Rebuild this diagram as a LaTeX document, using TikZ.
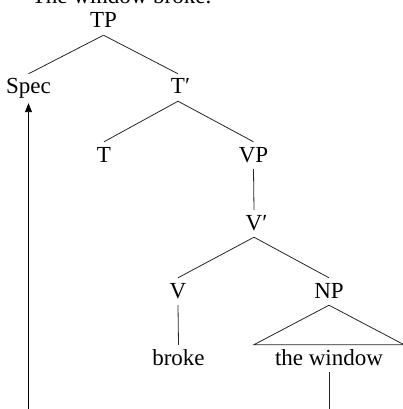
\documentclass[tikz,border=0pt]{standalone}
\usepackage{fontspec}
\setmainfont{Liberation Serif}
\usetikzlibrary{arrows.meta}
\begin{document}
\begin{tikzpicture}[x=1pt,y=-1pt,
  lbl/.style={anchor=base,inner sep=0pt,text height=20pt,text depth=7pt,
    font=\fontsize{23}{27}\selectfont},
  edge/.style={line width=0.8pt,draw=black!85},
  move/.style={line width=0.9pt,draw=black,-{Triangle[length=9pt,width=7pt]}}]
\useasboundingbox (0,0) rectangle (403,409);

% sentence caption (partly above the page edge)
\node[lbl] (sent) at (121.5,4) {The window broke.};

% tree nodes
\node[lbl] (tp)    at (103.5,28)  {TP};
\node[lbl] (spec)  at (28.5,94)   {Spec};
\node[lbl] (tbar)  at (178,94)    {T\rlap{′}};
\node[lbl] (t)     at (104,162)   {T};
\node[lbl] (vp)    at (253.5,162) {VP};
\node[lbl] (vbar)  at (254,230)   {V\rlap{′}};
\node[lbl] (v)     at (178,298)   {V};
\node[lbl] (np)    at (329,298)   {NP};
\node[lbl] (broke) at (178.5,365) {broke};
\node[lbl,minimum width=150pt] (win) at (329,365) {the window};

% free ends at the bottom edge
\coordinate (winend)  at (329,409);
\coordinate (specend) at (28.5,409);

% branches
\draw[edge] (tp.south) -- (spec.north);
\draw[edge] (tp.south) -- (tbar.north);
\draw[edge] (tbar.south) -- (t.north);
\draw[edge] (tbar.south) -- (vp.north);
\draw[edge] (vp.south) -- (vbar.north);
\draw[edge] (vbar.south) -- (v.north);
\draw[edge] (vbar.south) -- (np.north);
\draw[edge] (v.south) -- (broke.north);
\draw[edge] (np.south) -- (win.north east) -- (win.north west) -- cycle;
\draw[edge] (win.south) -- (winend);

% movement arrow
\draw[move,shorten >=2pt] (specend) -- (spec.south);
\end{tikzpicture}
\end{document}
